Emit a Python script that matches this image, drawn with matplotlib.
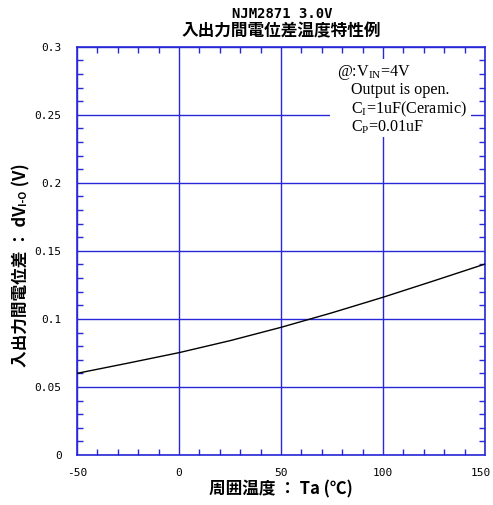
import matplotlib
matplotlib.use("Agg")
import matplotlib.pyplot as plt
from matplotlib.ticker import MultipleLocator
from matplotlib.patches import Rectangle
from matplotlib.transforms import ScaledTranslation

# ---- data ----
temps = [-50, -25, 0, 25, 50, 75, 100, 125, 150]
dv = [0.0600, 0.0675, 0.0752, 0.0840, 0.0938, 0.1045, 0.1159, 0.1280, 0.1403]
xticks = [-50, 0, 50, 100, 150]
yticks = [0, 0.05, 0.1, 0.15, 0.2, 0.25, 0.3]
ytick_labels = ["0", "0.05", "0.1", "0.15", "0.2", "0.25", "0.3"]
title1 = "NJM2871 3.0V"
title2 = "入出力間電位差温度特性例"
xlabel = "周囲温度 ： Ta (℃)"
note_lines = [r"@:V$_{\mathrm{IN}}$=4V", "Output is open.",
              r"C$_{\mathrm{I}}$=1uF(Ceramic)", r"C$_{\mathrm{P}}$=0.01uF"]

plt.rcParams['mathtext.fontset'] = 'custom'
plt.rcParams['mathtext.rm'] = 'Liberation Serif'
plt.rcParams['mathtext.it'] = 'Liberation Serif:italic'

BLUE = '#2828d8'
CJK = ['Noto Sans CJK JP', 'DejaVu Sans']

fig = plt.figure(figsize=(4.93, 5.05), dpi=100)
ax = fig.add_axes([77/493, 50/505, 408/493, 408.3/505])

ax.plot(temps, dv, color='black', lw=1.0, zorder=3)
ax.set_xlim(-50, 150)
ax.set_ylim(0, 0.3)
ax.set_xticks(xticks)
ax.set_xticklabels([str(t) for t in xticks])
ax.set_yticks(yticks)
ax.set_yticklabels(ytick_labels)
ax.xaxis.set_minor_locator(MultipleLocator(10))
ax.yaxis.set_minor_locator(MultipleLocator(0.01))
ax.grid(True, which='major', color=BLUE, lw=1.0, zorder=1)
ax.tick_params(which='both', direction='in', top=True, right=True, color=BLUE,
               labelcolor='black', labelsize=8)
ax.tick_params(which='major', length=0, width=1.0)
ax.tick_params(which='minor', length=4, width=1.0)
ax.tick_params(axis='y', which='major', pad=11)
ax.tick_params(axis='x', which='major', pad=9)
for lab in ax.get_xticklabels() + ax.get_yticklabels():
    lab.set_family('DejaVu Sans Mono')
xl = ax.get_xticklabels()
xl[-1].set_transform(xl[-1].get_transform() + ScaledTranslation(-4/100, 0, fig.dpi_scale_trans))
for s in ax.spines.values():
    s.set_color(BLUE)
    s.set_linewidth(1.2)

# note box
ax.add_patch(Rectangle((0.62, 0.78), 0.345, 0.19, transform=ax.transAxes,
                       facecolor='white', edgecolor='none', zorder=2))
xs = [0.638, 0.672, 0.672, 0.672]
ys = [0.937, 0.895, 0.846, 0.803]
for t, xx, yy in zip(note_lines, xs, ys):
    ax.text(xx, yy, t, transform=ax.transAxes, fontsize=11.6, family='Liberation Serif',
            va='center', ha='left', zorder=4)

# titles
cx = (77 + 408/2) / 493
fig.text(282/493, 1 - 14/505, title1, ha='center', va='center', fontsize=10,
         family='DejaVu Sans Mono', weight='bold')
fig.text(281/493, 1 - 31/505, title2, ha='center', va='center', fontsize=12,
         family=CJK, weight='bold')

# x label
fig.text(cx, 1 - 489/505, xlabel, ha='center', va='center', fontsize=12,
         family=CJK, weight='bold')

# y label built of pieces (subscript)
fig.canvas.draw()
r = fig.canvas.get_renderer()
xlab = 21/493
pieces = [("入出力間電位差 ： dV", 12, 0), ("I-O", 7.5, 0.005), (" (V)", 12, 0)]
texts = []
for s, fs, dx in pieces:
    t = fig.text(xlab + dx, 0.5, s, rotation=90, ha='center', va='bottom', fontsize=fs,
                 family=CJK, weight='bold')
    texts.append(t)
fig.canvas.draw()
heights = [t.get_window_extent(r).height / 505 for t in texts]
total = sum(heights)
y0 = (1 - 265/505) - total/2
for t, h in zip(texts, heights):
    t.set_y(y0)
    y0 += h

fig.savefig('out.png', dpi=100)
